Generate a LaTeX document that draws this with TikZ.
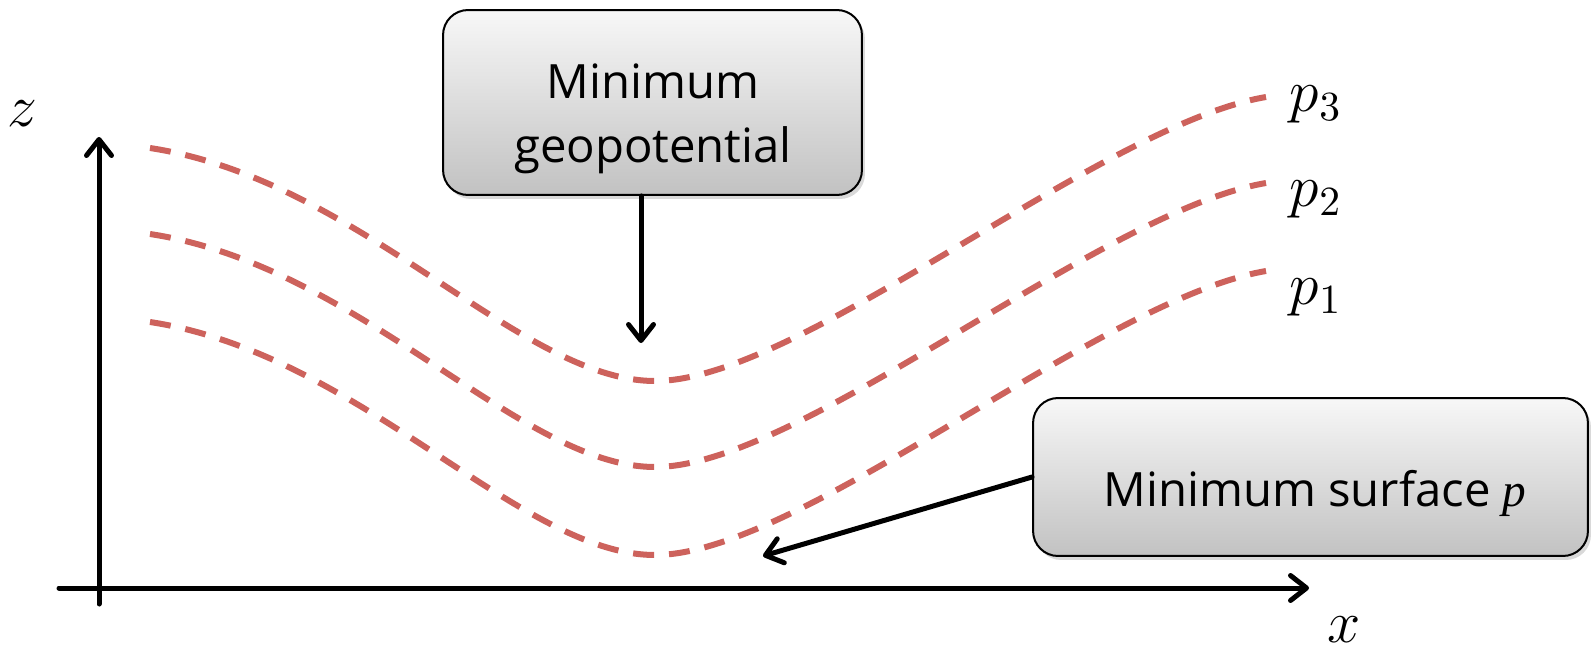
\documentclass[tikz,border=0pt]{standalone}
\usepackage[no-math]{fontspec}
\usepackage{xcolor}
\usetikzlibrary{arrows.meta,positioning,shadows}
\newfontfamily\boxfont{Open Sans}
\newfontfamily\itfont{Liberation Serif}
\definecolor{isored}{RGB}{205,98,92}
\tikzset{%
	axis/.style     = {line width=0.1cm, line cap=round, -{Straight Barb[length=0.32cm,width=0.5cm,round]}},
	pointer/.style  = {axis},
	isobar/.style   = {isored, line width=0.12cm, dash pattern=on 0.42cm off 0.3cm},
	infobox/.style  = {draw, line width=0.04cm, rounded corners=0.5cm, top color=black!3, bottom color=black!24,
		drop shadow={shadow xshift=0.06cm, shadow yshift=-0.08cm, opacity=0.3}},
	boxtext/.style  = {font=\boxfont\fontsize{13}{17.5}\selectfont, align=center, scale=2.07},
	mathlabel/.style= {font=\Large, scale=2.36},
}
\begin{document}
\begin{tikzpicture}[x=0.02cm,y=-0.02cm]
	\useasboundingbox (0,0) rectangle (1591,652);
	% axes
	\coordinate (ybot) at (99,604);
	\coordinate (ytop) at (99,137);
	\coordinate (xleft) at (59,588);
	\coordinate (xright) at (1309,588);
	\draw[axis] (ybot) -- (ytop);
	\draw[axis] (xleft) -- (xright);
	\node[mathlabel] (zlab) at (22,114) {$z$};
	\node[mathlabel] (xlab) at (1344,630) {$x$};
	
	% pressure surfaces
	\foreach \dz in {0,86,174}
		\draw[isobar] (150,{148+\dz}) .. controls (360,{180+\dz}) and (520,{381+\dz}) .. (655,{381+\dz})
			.. controls (800,{381+\dz}) and (1100,{125+\dz}) .. (1266,{97+\dz});
	\node[mathlabel] (p3) at (1316,104) {$p_3$};
	\node[mathlabel] (p2) at (1316,199) {$p_2$};
	\node[mathlabel] (p1) at (1316,297) {$p_1$};
	
	% boxes
	\node[infobox, minimum width=8.38cm, minimum height=3.7cm] (geobox) at (652.5,102.5) {};
	\node[boxtext] (geotext) at (653,119) {Minimum\\geopotential};
	\node[infobox, minimum width=11.1cm, minimum height=3.16cm] (sfcbox) at (1310.5,477) {};
	\node[boxtext] (sfctext) at (1315,493) {Minimum surface {\itfont\itshape p}};
	
	\coordinate (low3) at (641,343);
	\coordinate (low1) at (763,556);
	\draw[pointer] (low3 |- geobox.south) -- (low3);
	\draw[pointer] (sfcbox.west) -- (low1);
\end{tikzpicture}
\end{document}
